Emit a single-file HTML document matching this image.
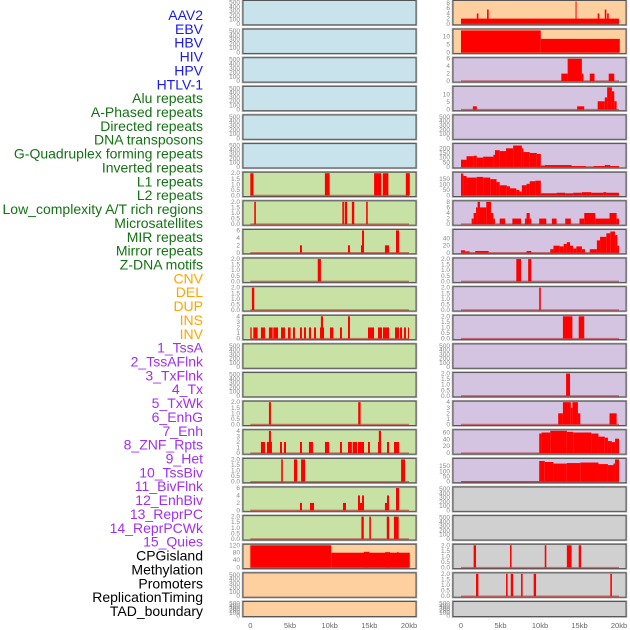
<!DOCTYPE html>
<html><head><meta charset="utf-8"><style>
body{margin:0;background:#fff;width:630px;height:630px;overflow:hidden}
svg{display:block;font-family:"Liberation Sans",sans-serif}
</style></head><body>
<svg id="chart" width="630" height="630" viewBox="0 0 630 630" xmlns="http://www.w3.org/2000/svg"></svg>
<script>
const labelNames = ["AAV2","EBV","HBV","HIV","HPV","HTLV-1","Alu repeats","A-Phased repeats","Directed repeats","DNA transposons","G-Quadruplex forming repeats","Inverted repeats","L1 repeats","L2 repeats","Low_complexity A/T rich regions","Microsatellites","MIR repeats","Mirror repeats","Z-DNA motifs","CNV","DEL","DUP","INS","INV","1_TssA","2_TssAFlnk","3_TxFlnk","4_Tx","5_TxWk","6_EnhG","7_Enh","8_ZNF_Rpts","9_Het","10_TssBiv","11_BivFlnk","12_EnhBiv","13_ReprPC","14_ReprPCWk","15_Quies","CPGisland","Methylation","Promoters","ReplicationTiming","TAD_boundary"];
const labelGroups = [0,0,0,0,0,0,1,1,1,1,1,1,1,1,1,1,1,1,1,2,2,2,2,2,3,3,3,3,3,3,3,3,3,3,3,3,3,3,3,4,4,4,4,4];
const groupColors = ["#1a1aee","#137313","#ffa500","#a030f0","#000000"];
const panelGroupsLeft = [0,0,0,0,0,0,1,1,1,1,1,1,1,1,1,1,1,1,1,2,2,2];
const panelGroupsRight = [2,2,3,3,3,3,3,3,3,3,3,3,3,3,3,3,3,4,4,4,4,4];
const panelFill = ["#c8e3eb","#c8e1a5","#fed0a0","#d5c4e1","#d0d0d0"];
const xTickVals = [0,5,10,15,20];
const xTickLabels = ["0","5kb","10kb","15kb","20kb"];
const E = [0,100,200,300,400,500];
const T2 = [0,0.5,1.0,1.5,2.0];
// per panel: ticks, ymax, segments [startKb,endKb,value]
const leftTicks = [E,E,E,E,E,E,T2,T2,[0,2,4,6],T2,T2,[0,1,2,3,4],E,E,T2,[0,1,2,3,4],T2,[0,2,4,6],T2,[0,40,80,120],E,E];
const leftYmax = [500,500,500,500,500,500,2,2,6,2,2,4,500,500,2,4,2,6,2,120,500,500];
const leftSegs = [[],[],[],[],[],[],
 [[0,0.4,2],[9.4,10.0,2],[15.6,16.5,2],[16.7,17.4,2],[19.6,20.1,2]],
 [[0.5,0.7,2],[11.6,11.8,2],[11.9,12.2,2],[12.8,13.1,2],[14.6,14.8,2]],
 [[6.26,6.51,2],[12.31,12.56,2],[13.95,14.08,2],[14.08,14.33,6],[16.97,17.48,2],[18.36,18.74,6]],
 [[8.5,8.9,2]],
 [[0.2,0.5,2]],
 [[0,0.17,2],[0.38,0.92,2],[1.34,1.85,2],[2.35,2.82,2],[2.9,3.49,2],[3.87,4.37,2],[4.75,5.08,2],[5.38,5.63,2],[6.26,6.51,2],[6.76,7.02,2],[7.39,7.65,2],[8.03,8.28,2],[8.78,9.29,2],[8.9,9.16,4],[10.04,10.46,2],[11.3,11.55,2],[12.31,12.56,4],[14.83,15.59,2],[16.09,16.6,2],[16.72,17.48,2],[18.24,18.74,2],[18.87,19.12,2],[19.37,19.62,2],[19.87,20.0,2]],
 [],[],
 [[2.35,2.6,2],[13.6,13.9,2]],
 [[1.34,1.85,2],[2.1,2.73,2],[2.35,2.6,4],[3.74,3.99,2],[4.24,4.5,2],[6.26,6.51,2],[7.39,7.9,2],[9.41,9.92,2],[11.3,11.55,2],[12.31,12.8,2],[12.9,13.45,2],[13.57,14.33,2],[14.83,15.08,2],[16.09,16.34,2],[16.2,16.47,4],[17.23,17.48,2],[18.11,18.74,2]],
 [[3.9,4.1,2],[5.5,5.9,2],[6.4,6.9,2],[19.0,19.5,2]],
 [[6.26,6.51,2],[7.52,8.03,2],[11.68,12.06,2],[13.57,13.82,4],[13.82,14.08,2],[14.08,14.33,4],[16.97,17.23,2],[17.23,17.48,4],[18.36,18.74,6]],
 [[14.0,14.3,2],[15.0,15.2,2],[17.2,17.5,2],[18.1,18.7,2]],
 [[0,10.2,120],[10.2,20.1,80],[14.3,15.0,85],[17.0,17.6,83],[18.5,18.7,83]],
 [],[]];
const rightTicks = [[0,2,4,6,8],[0,5,10],[0,2,4,6],[0,5,10],E,[0,50,100,150,200],[0,50,100,150],[0,2,4,6,8],[0,20,40],T2,T2,T2,E,T2,[0,1,2,3,4],[0,20,40,60],[0,50,100,150],E,E,T2,T2,E];
const rightYmax = [8.6,14,6,14.6,500,240,200,8,63,2,2,2,500,2,4,65,215,500,500,2,2,500];
const rightSegs = [
 [[0,20,2],[2.0,2.2,4],[3.3,3.5,5.5],[14.5,14.6,8.6],[17.3,17.5,4],[18.2,18.4,5.5],[18.5,18.7,4]],
 [[0,10.1,13.8],[10.1,20.1,8.5]],
 [[12.7,13.5,2],[13.5,15.3,6],[15.3,15.5,2],[16.3,16.9,2],[18.7,19.4,2]],
 [[1.5,2.0,2.2],[14.7,15.6,2.2],[17.3,18.2,5.5],[18.2,18.5,8],[18.5,19.1,14.6],[19.1,19.4,12],[19.4,19.7,5.5]],
 [],
 [[0,0.7,77],[0.7,1.6,115],[1.6,2.0,120],[2.0,2.8,100],[2.8,4.1,110],[4.1,4.3,130],[4.3,4.9,180],[4.9,5.7,170],[5.7,6.6,200],[6.6,7.7,230],[7.7,7.9,200],[7.9,8.7,160],[8.7,9.6,150],[9.6,10.1,140],[10.1,10.6,15],[10.6,14.0,20],[14.0,15.8,10],[16.8,18.2,10],[18.2,18.9,20],[18.9,20.0,10]],
 [[0,0.3,197],[0.3,0.7,175],[0.7,2.0,161],[2.0,2.8,167],[2.8,3.7,161],[3.7,4.5,147],[4.5,4.9,120],[4.9,5.8,92],[5.8,6.2,83],[6.2,7.0,64],[7.0,7.4,50],[7.4,7.7,36],[7.7,8.3,92],[8.3,8.7,105],[8.7,9.4,128],[9.4,10.1,133],[10.1,12.1,20],[12.1,13.2,25],[13.2,14.2,20],[14.2,15.3,25],[15.3,16.5,30],[16.5,18.0,25],[18.0,18.4,30],[18.4,20.0,25]],
 [[1.35,1.6,2],[1.6,1.9,4],[1.9,2.1,6],[2.1,2.4,8],[2.4,3.2,6],[3.2,3.8,8],[3.8,4.1,4],[4.1,4.3,2],[4.9,5.6,2],[6.5,7.6,2],[8.1,8.3,2],[8.3,8.7,4],[8.7,8.9,2],[9.9,10.8,2],[11.5,12.1,2],[13.2,13.9,2],[15.0,15.6,2],[15.6,17.0,4],[17.0,18.8,2],[18.8,19.7,4],[19.7,20.0,2]],
 [[0,0.5,7],[0.5,1.1,4],[1.8,3.5,5],[8.3,8.9,5],[11.3,11.7,10],[11.7,12.5,20],[12.5,13.0,18],[13.0,13.4,25],[13.4,13.8,30],[13.8,14.2,20],[14.2,14.6,12],[14.6,15.3,18],[15.3,15.7,10],[16.3,17.2,10],[17.2,17.6,35],[17.6,18.4,45],[18.4,18.9,55],[18.9,19.5,60],[19.5,19.8,50],[19.8,20.0,20]],
 [[7.0,7.6,2],[8.5,8.9,2]],
 [[9.9,10.1,2]],
 [[12.9,14.1,2],[14.9,15.6,2]],
 [],
 [[13.3,13.8,2]],
 [[12.3,12.9,2],[12.9,13.9,4],[13.9,14.1,3],[14.1,14.8,4],[14.8,15.1,2],[18.8,19.7,2]],
 [[9.9,10.2,57],[10.2,11.3,60],[11.3,13.4,65],[13.4,14.2,62],[14.2,16.5,60],[16.5,17.4,57],[17.4,18.2,48],[18.2,18.6,45],[18.6,19.1,35],[19.1,19.5,32],[19.5,20.0,42]],
 [[0,9.9,5],[9.9,10.6,200],[10.6,11.7,190],[11.7,13.4,175],[13.4,15.1,180],[15.1,17.4,185],[17.4,18.6,170],[18.6,19.3,160],[19.3,19.5,175],[19.5,20.0,215]],
 [],[],
 [[1.6,1.9,2],[6.2,6.4,2],[10.6,10.8,2],[13.4,14.0,2],[14.9,15.2,2]],
 [[1.9,2.2,2],[5.7,5.9,2],[6.3,6.6,2],[7.6,7.8,2],[9.2,9.5,2],[18.9,19.1,2]],
 []];

const NS = "http://www.w3.org/2000/svg";
const svg = document.getElementById("chart");
function mk(tag, attrs, parent){const e=document.createElementNS(NS,tag);for(const k in attrs)e.setAttribute(k,attrs[k]);(parent||svg).appendChild(e);return e;}

// labels
labelNames.forEach((n,i)=>{
  const t=mk("text",{x:203,y:15+i*13.86+5,"text-anchor":"end","font-size":"14",fill:groupColors[labelGroups[i]]});
  t.textContent=n;
  
  
});

const ROW=28.62, H=24.3;
function rowTop(i){return i*ROW+0.5;}
function rowH(i){return i===21?15:H;}

function drawPanel(col,i,ticks,ymax,segs,grp){
  const px = col===0?243:453, pw=173;
  const x0 = col===0?250.3:461, xs = col===0?7.935:7.9;
  const top=rowTop(i), h=rowH(i), bot=top+h;
  const xScale=kb=>x0+kb*xs;
  const yScale=v=>(bot-1)-(v/ymax)*(h-2);
  const g=mk("g",{});
  
  
  mk("rect",{x:px-0.5,y:top-0.5,width:pw+1,height:h+1,fill:"none",stroke:"#aaa","stroke-width":1.5},g);
  mk("rect",{x:px,y:top,width:pw,height:h,fill:panelFill[grp],stroke:"#555","stroke-width":1},g);
  if(segs.length){
    const bl=mk("line",{x1:xScale(0),x2:xScale(20),y1:yScale(0),y2:yScale(0),stroke:"rgba(190,30,30,0.55)","stroke-width":1.5},g);
    
    
  }
  segs.forEach(s=>{
    const y=yScale(s[2]);
    const r=mk("rect",{x:xScale(s[0]),y:y,width:Math.max(1,xScale(s[1])-xScale(s[0])),height:Math.max(0.5,yScale(0)-y),fill:"#ff0000"},g);
    
    
  });
  const tmax=ticks[ticks.length-1];
  ticks.forEach((tv,k)=>{
    const yy = ymax>=500 ? (bot-1)-(k/(ticks.length-1))*(h-3) : yScale(tv);
    const t=mk("text",{x:px-3,y:yy+2,"text-anchor":"end","font-size":"6.5",fill:"#888"},g);
    t.textContent = (ticks===T2)? tv.toFixed(1) : String(tv);
    
    
  });
}
for(let i=0;i<22;i++){
  drawPanel(0,i,leftTicks[i],leftYmax[i],leftSegs[i],panelGroupsLeft[i]);
  drawPanel(1,i,rightTicks[i],rightYmax[i],rightSegs[i],panelGroupsRight[i]);
}
// x axes
[[250.3,7.935],[461,7.9]].forEach((c,ci)=>{
  xTickVals.forEach((v,k)=>{
    const t=mk("text",{x:c[0]+v*c[1],y:628,"text-anchor":"middle","font-size":"7.5",fill:"#666"});
    t.textContent=xTickLabels[k];
    
    
  });
});
</script>
</body></html>
